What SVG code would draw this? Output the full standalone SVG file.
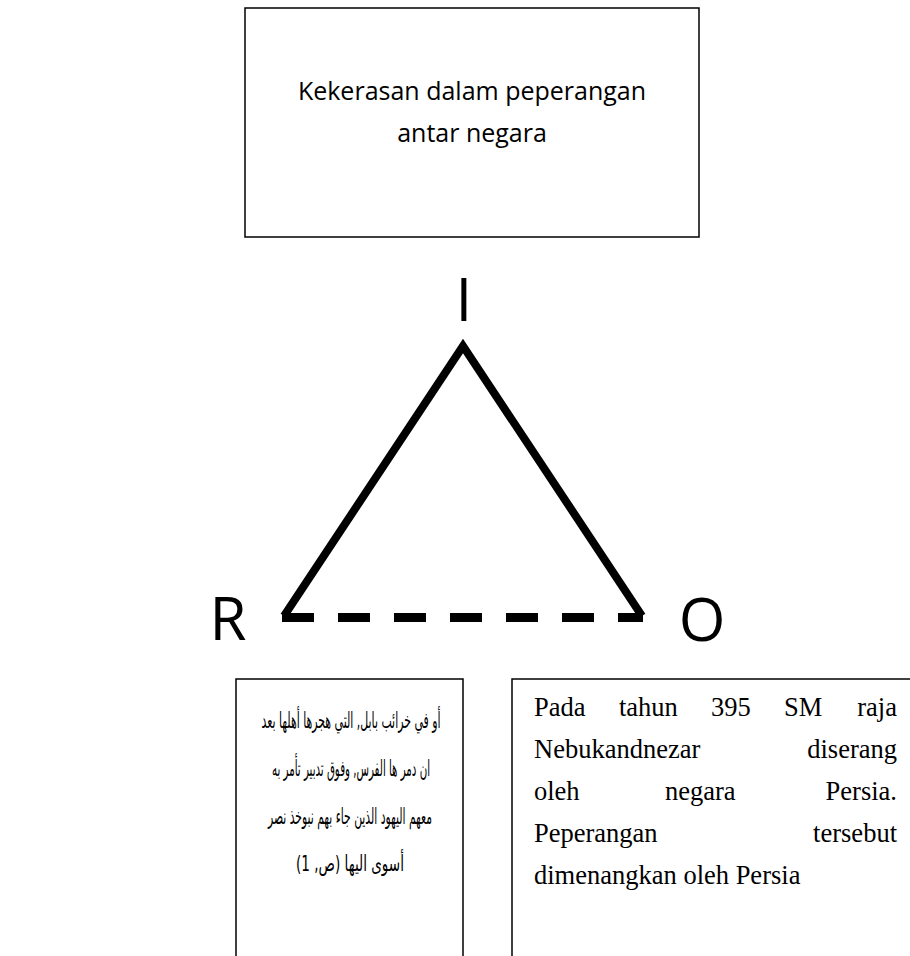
<svg xmlns="http://www.w3.org/2000/svg" width="910" height="956" viewBox="0 0 910 956">
<style>
.box{fill:#fff;stroke:#000;stroke-width:1.5}
.sans{font-family:"Open Sans","Noto Sans",sans-serif;fill:#000}
.serif{font-family:"Liberation Serif","Times New Roman",serif;font-size:26.5px;fill:#000}
.ar{font-family:"DejaVu Sans",sans-serif;font-size:22px;fill:#000}
.big{font-size:60px}
</style>
<rect width="910" height="956" fill="#fff"/>
<g id="top-box">
<rect class="box" x="245" y="8" width="454" height="229"/>
<text class="sans" x="472" y="100" font-size="25" text-anchor="middle">Kekerasan dalam peperangan</text>
<text class="sans" x="472" y="142" font-size="25" text-anchor="middle">antar negara</text>
</g>
<g id="connectors" fill="none" stroke="#000" stroke-width="8">
<polyline points="284,616 463,346 642,616" stroke-linejoin="miter" stroke-miterlimit="10"/>
<line x1="282" y1="617.5" x2="643" y2="617.5" stroke-width="9" stroke-dasharray="32 24"/>
</g>
<g id="node-I"><text class="sans big" x="464" y="321" text-anchor="middle">I</text></g>
<g id="node-R"><text class="sans big" x="228" y="640" text-anchor="middle">R</text></g>
<g id="node-O"><text class="sans big" x="702" y="641" text-anchor="middle">O</text></g>
<g id="left-box">
<rect class="box" x="236" y="679" width="227" height="300"/>
<text class="ar" x="351" y="728" text-anchor="middle" direction="rtl" textLength="179" lengthAdjust="spacingAndGlyphs">أو في خرائب بابل, التي هجرها أهلها بعد</text>
<text class="ar" x="351" y="776" text-anchor="middle" direction="rtl" textLength="158" lengthAdjust="spacingAndGlyphs">ان دمر ها الفرس, وفوق تدبير تأمر به</text>
<text class="ar" x="350" y="824" text-anchor="middle" direction="rtl" textLength="164" lengthAdjust="spacingAndGlyphs">معهم اليهود الذين جاء بهم نبوخذ نصر</text>
<text class="ar" x="350" y="871" text-anchor="middle" direction="rtl" textLength="108" lengthAdjust="spacingAndGlyphs">أسوى اليها (ص, 1)</text>
</g>
<g id="right-box">
<rect class="box" x="512" y="679" width="420" height="300"/>
<text class="serif" x="534" y="716">Pada</text>
<text class="serif" x="619" y="716">tahun</text>
<text class="serif" x="711" y="716">395</text>
<text class="serif" x="784" y="716">SM</text>
<text class="serif" x="897" y="716" text-anchor="end">raja</text>
<text class="serif" x="534" y="758">Nebukandnezar</text>
<text class="serif" x="897" y="758" text-anchor="end">diserang</text>
<text class="serif" x="534" y="800">oleh</text>
<text class="serif" x="665" y="800">negara</text>
<text class="serif" x="897" y="800" text-anchor="end">Persia.</text>
<text class="serif" x="534" y="842">Peperangan</text>
<text class="serif" x="897" y="842" text-anchor="end">tersebut</text>
<text class="serif" x="534" y="884">dimenangkan oleh Persia</text>
</g>
</svg>
